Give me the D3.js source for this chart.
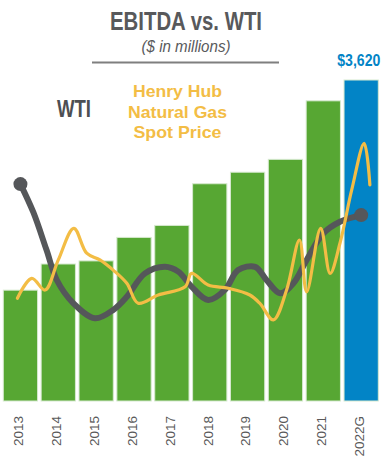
<!DOCTYPE html>
<html>
<head>
<meta charset="utf-8">
<script src="https://cdn.jsdelivr.net/npm/d3@7"></script>
<style>
  body { margin: 0; background: #fff; }
  svg { display: block; }
  text { font-family: "Liberation Sans", Arial, sans-serif; }
</style>
</head>
<body>
<svg width="386" height="460"></svg>
<script>
// data
var years = ["2013", "2014", "2015", "2016", "2017", "2018", "2019", "2020", "2021", "2022G"];
var ebitda = [1250, 1545, 1580, 1845, 1980, 2450, 2580, 2725, 3385, 3620];

// WTI, $/bbl (smoothed)
var wtiT = [2013.00, 2013.34, 2013.69, 2013.96, 2014.40, 2014.97, 2015.45, 2015.81, 2016.29, 2016.82, 2017.17, 2017.52,
            2017.96, 2018.40, 2018.75, 2019.20, 2019.50, 2019.86, 2020.21, 2020.56, 2021.00, 2021.44, 2022.00];
var wtiV = [98.6, 85.8, 68.6, 55.0, 44.4, 37.6, 41.4, 47.4, 58.0, 61.0, 58.8, 52.0,
            45.9, 50.5, 59.5, 61.0, 55.0, 49.0, 53.5, 64.1, 76.2, 81.5, 84.5];

// Henry Hub, $/MMBtu
var hhT = [2012.92, 2013.30, 2013.65, 2014.00, 2014.41, 2014.75, 2015.10, 2015.45, 2015.81, 2016.11, 2016.64, 2017.35,
           2017.52, 2017.96, 2018.49, 2019.06, 2019.32, 2019.68, 2020.03, 2020.37, 2020.56, 2020.93, 2021.18, 2021.44,
           2021.75, 2022.08, 2022.23];
var hhV = [2.56, 3.36, 2.89, 4.10, 5.37, 4.37, 4.10, 3.69, 3.16, 2.36, 2.69, 3.02,
           3.56, 3.09, 2.96, 2.69, 2.36, 1.69, 2.89, 4.90, 2.82, 5.37, 3.56, 4.77,
           6.91, 8.78, 7.11];

var svg = d3.select("svg");

// scales
var x = d3.scaleBand().domain(years).range([3.3, 378.3]).paddingInner(0.095).paddingOuter(0);
var y = d3.scaleLinear().domain([0, 3620]).range([401, 80]);

var xt = d3.scaleLinear().domain([2013, 2022])
  .range([x("2013") + x.bandwidth() / 2, x("2022G") + x.bandwidth() / 2]);
var yWti = d3.scaleLinear().domain([0, 100]).range([401, 181]);
var yHh = d3.scaleLinear().domain([0, 10]).range([362, 113]);

// bars
svg.append("g").selectAll("rect")
  .data(ebitda)
  .enter().append("rect")
  .attr("x", function(d, i) { return x(years[i]); })
  .attr("y", function(d) { return y(d); })
  .attr("width", x.bandwidth())
  .attr("height", function(d) { return y(0) - y(d); })
  .attr("fill", function(d, i) { return i === years.length - 1 ? "#0284c6" : "#57a733"; })
  .attr("stroke", "#d6e9cf")
  .attr("stroke-width", 1);

// narrow bold text: the original uses a condensed face, so squeeze to the measured width
function label(px, py, size, w, txt) {
  return svg.append("text")
    .attr("x", px).attr("y", py)
    .attr("text-anchor", "middle")
    .attr("font-size", size)
    .attr("font-weight", "bold")
    .attr("textLength", w)
    .attr("lengthAdjust", "spacingAndGlyphs")
    .text(txt);
}

// label on the guidance bar, right-aligned so it stays inside the frame
label(x("2022G") + x.bandwidth() + 2, y(3620) - 14, 17, 43, "$3,620")
  .attr("text-anchor", "end")
  .attr("fill", "#0284c6");

// lines
var wtiLine = d3.line()
  .x(function(d, i) { return xt(wtiT[i]); })
  .y(function(d) { return yWti(d); })
  .curve(d3.curveCatmullRom.alpha(0.5));

var hhLine = d3.line()
  .x(function(d, i) { return xt(hhT[i]); })
  .y(function(d) { return yHh(d); })
  .curve(d3.curveCatmullRom.alpha(0.5));

svg.append("path")
  .datum(wtiV)
  .attr("d", wtiLine)
  .attr("fill", "none")
  .attr("stroke", "#55575a")
  .attr("stroke-width", 6)
  .attr("stroke-linecap", "round");

svg.append("g").selectAll("circle")
  .data([0, wtiV.length - 1])
  .enter().append("circle")
  .attr("cx", function(i) { return xt(wtiT[i]); })
  .attr("cy", function(i) { return yWti(wtiV[i]); })
  .attr("r", 7)
  .attr("fill", "#55575a");

svg.append("path")
  .datum(hhV)
  .attr("d", hhLine)
  .attr("fill", "none")
  .attr("stroke", "#f3bd45")
  .attr("stroke-width", 3.2)
  .attr("stroke-linecap", "round");

// x axis labels, rotated
svg.append("g").selectAll("text")
  .data(years)
  .enter().append("text")
  .attr("transform", function(d) { return "translate(" + (x(d) + x.bandwidth() / 2 - 2) + ",416) rotate(-90)"; })
  .attr("text-anchor", "end")
  .attr("dy", "0.36em")
  .attr("font-size", 13.5)
  .attr("fill", "#595959")
  .text(function(d) { return d; });

// titles
label(186, 30, 25, 152, "EBITDA vs. WTI").attr("fill", "#58595b");

svg.append("text")
  .attr("x", 186).attr("y", 52)
  .attr("text-anchor", "middle")
  .attr("font-size", 16)
  .attr("font-style", "italic")
  .attr("textLength", 89)
  .attr("lengthAdjust", "spacingAndGlyphs")
  .attr("fill", "#58595b")
  .text("($ in millions)");

svg.append("line")
  .attr("x1", 92).attr("x2", 279)
  .attr("y1", 62.5).attr("y2", 62.5)
  .attr("stroke", "#7f7f7f")
  .attr("stroke-width", 2);

// series labels
label(74, 117, 23, 34, "WTI").attr("fill", "#4d4f53");

var hhNames = ["Henry Hub", "Natural Gas", "Spot Price"];
var hhWidths = [89, 99, 88];
hhNames.forEach(function(s, i) {
  label(177.5, 97 + i * 20.5, 17, hhWidths[i], s).attr("fill", "#f3bd45");
});
</script>
</body>
</html>
